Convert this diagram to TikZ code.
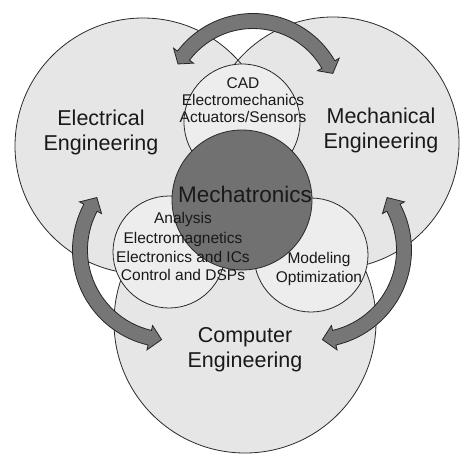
\documentclass[tikz,border=0pt]{standalone}
\usepackage{fontspec}
\setmainfont{Liberation Sans}
\definecolor{bigfill}{HTML}{E6E6E6}
\definecolor{smallfill}{HTML}{EDEDED}
\definecolor{mechafill}{HTML}{717171}
\definecolor{arrowfill}{HTML}{767676}
\definecolor{edgecol}{HTML}{2A2A2A}
\tikzset{
  bigring/.style={draw=edgecol, line width=0.8pt},
  smallring/.style={fill=smallfill, draw=edgecol, line width=0.8pt},
  mecharing/.style={fill=mechafill, draw=edgecol, line width=0.8pt},
  arrowband/.style={fill=arrowfill, draw=black!85, line width=0.8pt, line join=miter},
  biglabel/.style={anchor=base, inner sep=0pt, font=\fontsize{21.5}{25}\selectfont, text=black!90},
  mechalabel/.style={anchor=base, inner sep=0pt, font=\fontsize{22.5}{26}\selectfont, text=black!90},
  smalllabel/.style={anchor=base, inner sep=0pt, font=\fontsize{15.5}{18}\selectfont, text=black!90}
}
\def\bandw{7.5}
\def\headw{12.5}
\newcommand{\bandarrow}[5]{% center, mid radius, start angle, end angle, head length (visual angles)
  \pgfmathsetmacro\bdA{-(#3)}
  \pgfmathsetmacro\bdB{-(#4)}
  \pgfmathsetmacro\bdS{(\bdB>\bdA)?1:-1}
  \pgfmathsetmacro\bdD{(#5)/(#2)*57.29578}
  \pgfmathsetmacro\bdTA{\bdA-\bdS*\bdD}
  \pgfmathsetmacro\bdTB{\bdB+\bdS*\bdD}
  \pgfmathsetmacro\bdRO{#2+\bandw}
  \pgfmathsetmacro\bdRI{#2-\bandw}
  \pgfmathsetmacro\bdHO{#2+\headw}
  \pgfmathsetmacro\bdHI{#2-\headw}
  \begin{scope}[shift={(#1)}]
    \draw[arrowband] (\bdA:\bdRO) arc[start angle=\bdA, end angle=\bdB, radius=\bdRO]
      -- (\bdB:\bdHO) -- (\bdTB:#2) -- (\bdB:\bdHI) -- (\bdB:\bdRI)
      arc[start angle=\bdB, end angle=\bdA, radius=\bdRI]
      -- (\bdA:\bdHI) -- (\bdTA:#2) -- (\bdA:\bdHO) -- cycle;
  \end{scope}}
\begin{document}
\begin{tikzpicture}[x=1pt,y=-1pt]
\useasboundingbox (0,0) rectangle (460,455);
\fill[white] (0,0) rectangle (460,455);
\clip (0,0) rectangle (460,455);
% centres
\coordinate (ee) at (143,146);
\coordinate (me) at (333,143);
\coordinate (ce) at (245,322);
\coordinate (cad) at (242,122);
\coordinate (ana) at (169,252);
\coordinate (mod) at (311,255);
\coordinate (mt) at (242,200);
% big circles: fills then outlines
\fill[bigfill] (ee) circle[radius=128];
\fill[bigfill] (me) circle[radius=126];
\fill[bigfill] (ce) circle[radius=131];
\draw[bigring] (ee) circle[radius=128];
\draw[bigring] (me) circle[radius=126];
\draw[bigring] (ce) circle[radius=131];
% small circles
\draw[smallring] (cad) circle[radius=58];
\draw[smallring] (ana) circle[radius=56];
\draw[smallring] (mod) circle[radius=57];
% mechatronics
\draw[mecharing] (mt) circle[radius=70];
% labels
\node[biglabel] (el1) at (101,125) {Electrical};
\node[biglabel] (el2) at (101,150) {Engineering};
\node[biglabel] (mc1) at (381,123) {Mechanical};
\node[biglabel] (mc2) at (381,148) {Engineering};
\node[biglabel] (cp1) at (245,342) {Computer};
\node[biglabel] (cp2) at (245,367) {Engineering};
\node[mechalabel] (mtl) at (245,202) {Mechatronics};
\node[smalllabel] (cd1) at (243,88) {CAD};
\node[smalllabel] (cd2) at (243,105) {Electromechanics};
\node[smalllabel] (cd3) at (243,122) {Actuators/Sensors};
\node[smalllabel] (an1) at (183,223) {Analysis};
\node[smalllabel] (an2) at (183,243) {Electromagnetics};
\node[smalllabel] (an3) at (183,262) {Electronics and ICs};
\node[smalllabel] (an4) at (183,280) {Control and DSPs};
\node[smalllabel] (md1) at (319,263) {Modeling};
\node[smalllabel] (md2) at (319,282) {Optimization};
% arrows
\bandarrow{253,108}{87}{143}{30}{10}
\bandarrow{170,250}{90}{152}{257}{12}
\bandarrow{314,250}{90}{28}{-77}{12}
\end{tikzpicture}
\end{document}
